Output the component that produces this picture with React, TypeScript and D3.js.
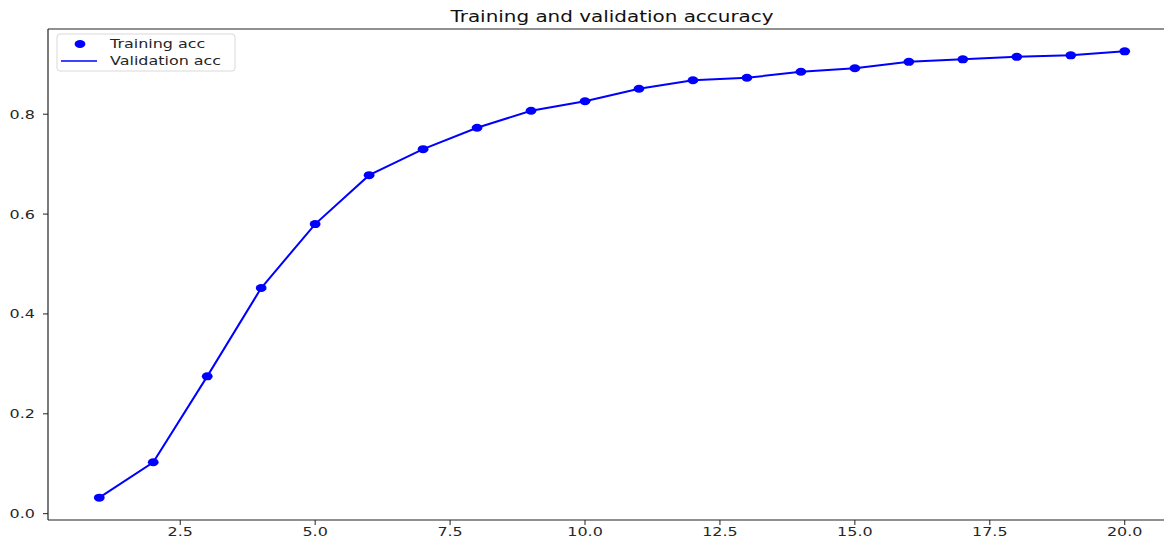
import React from "react";
import * as d3 from "d3";

const epochs = [1, 2, 3, 4, 5, 6, 7, 8, 9, 10, 11, 12, 13, 14, 15, 16, 17, 18, 19, 20];
const valAcc = [
  0.032, 0.103, 0.275, 0.452, 0.58, 0.678, 0.73, 0.773, 0.807, 0.826,
  0.851, 0.868, 0.873, 0.885, 0.892, 0.905, 0.91, 0.915, 0.918, 0.926,
];
const xTicks = [2.5, 5.0, 7.5, 10.0, 12.5, 15.0, 17.5, 20.0];
const yTicks = [0.0, 0.2, 0.4, 0.6, 0.8];

const title = "Training and validation accuracy";
const legendLabels = ["Training acc", "Validation acc"];

const W = 1164;
const H = 537;
// the picture is stretched sideways, so text gets squeezed back out
const SX = 1.33;
const FONT = "DejaVu Sans, sans-serif";

const App: React.FC = () => {
  const left = 48;
  const right = 1176;
  const top = 29;
  const bottom = 520;

  // matplotlib-style 5% margins
  const [x0, x1] = d3.extent(epochs) as [number, number];
  const [y0, y1] = d3.extent(valAcc) as [number, number];
  const mx = (x1 - x0) * 0.05;
  const my = (y1 - y0) * 0.05;

  const x = d3.scaleLinear().domain([x0 - mx, x1 + mx]).range([left, right]);
  const y = d3.scaleLinear().domain([y0 - my, y1 + my]).range([bottom, top]);

  const line = d3
    .line<number>()
    .x((_, i) => x(epochs[i]))
    .y((d) => y(d));

  const stretched = (tx: number, ty: number) => `translate(${tx},${ty}) scale(${SX},1)`;

  return (
    <svg
      width={W}
      height={H}
      style={{ position: "absolute", left: 0, top: 0, background: "white" }}
      fontFamily={FONT}
    >
      <rect width={W} height={H} fill="white" />

      {/* spines */}
      <line x1={left} x2={left} y1={top} y2={bottom} stroke="#222" strokeWidth={1.2} />
      <line x1={left} x2={right} y1={bottom} y2={bottom} stroke="#222" strokeWidth={1.2} />
      <line x1={left} x2={right} y1={top} y2={top} stroke="#222" strokeWidth={1.2} />
      <line x1={right} x2={right} y1={top} y2={bottom} stroke="#222" strokeWidth={1.2} />

      {/* y ticks */}
      {yTicks.map((t) => (
        <g key={"y" + t}>
          <line x1={left - 5} x2={left} y1={y(t)} y2={y(t)} stroke="#222" strokeWidth={1} />
          <text
            transform={stretched(left - 13, y(t) + 4.5)}
            textAnchor="end"
            fontSize={12}
            fill="#262626"
          >
            {d3.format(".1f")(t)}
          </text>
        </g>
      ))}

      {/* x ticks */}
      {xTicks.map((t) => (
        <g key={"x" + t}>
          <line x1={x(t)} x2={x(t)} y1={bottom} y2={bottom + 5} stroke="#222" strokeWidth={1} />
          <text
            transform={stretched(x(t), bottom + 15.5)}
            textAnchor="middle"
            fontSize={12}
            fill="#262626"
          >
            {d3.format(".1f")(t)}
          </text>
        </g>
      ))}

      {/* series */}
      <path d={line(valAcc) ?? ""} fill="none" stroke="#0000ff" strokeWidth={2} />
      {valAcc.map((v, i) => (
        <ellipse key={i} cx={x(epochs[i])} cy={y(v)} rx={5.4} ry={4} fill="#0000ff" />
      ))}

      {/* title */}
      <text
        transform={stretched((left + right) / 2, 22)}
        textAnchor="middle"
        fontSize={15}
        fill="#111"
      >
        {title}
      </text>

      {/* legend */}
      <g>
        <rect
          x={57}
          y={34}
          width={178}
          height={37}
          rx={3}
          fill="white"
          fillOpacity={0.8}
          stroke="#d9d9d9"
          strokeWidth={1}
        />
        <ellipse cx={80} cy={44} rx={5.4} ry={4} fill="#0000ff" />
        <line x1={61} x2={97} y1={61} y2={61} stroke="#0000ff" strokeWidth={1.6} />
        <text transform={stretched(110, 48)} fontSize={12} fill="#262626">
          {legendLabels[0]}
        </text>
        <text transform={stretched(110, 65)} fontSize={12} fill="#262626">
          {legendLabels[1]}
        </text>
      </g>
    </svg>
  );
};

export default App;
